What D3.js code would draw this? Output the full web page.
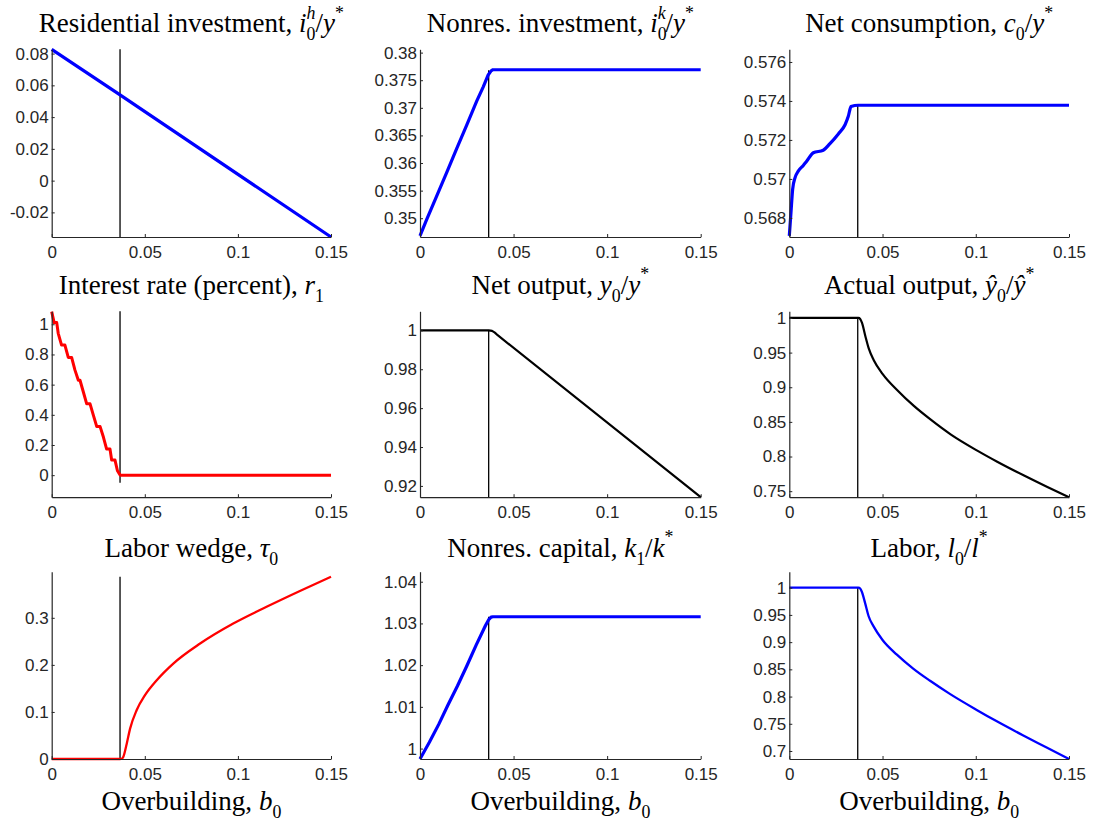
<!DOCTYPE html>
<html>
<head>
<meta charset="utf-8">
<script src="https://cdn.jsdelivr.net/npm/d3@7"></script>
<style>
  body { margin: 0; background: #fff; }
  svg { display: block; }
</style>
</head>
<body>
<script>
// values
var xTicks = [0, 0.05, 0.1, 0.15];
var cutoff = 0.0367;

var resX = [0, 0.0367, 0.15];
var resY = [0.0827, 0.0540, -0.0355];

var nriX = [0, 0.0036, 0.0089, 0.0143, 0.0196, 0.0249, 0.0303, 0.0338, 0.0365, 0.0380, 0.0390, 0.15];
var nriY = [0.3468, 0.3498, 0.3540, 0.3583, 0.3626, 0.3668, 0.3712, 0.3738, 0.3760, 0.3767, 0.3769, 0.3769];

var conX = [0, 0.0009, 0.0018, 0.0031, 0.0048, 0.0075, 0.0093, 0.0129, 0.0182, 0.0218, 0.0263, 0.0299, 0.0316, 0.0331, 0.0370, 0.15];
var conY = [0.56708, 0.56828, 0.56947, 0.57007, 0.57040, 0.57069, 0.57091, 0.57134, 0.57147, 0.57181, 0.57231, 0.57278, 0.57320, 0.57371, 0.57378, 0.57378];

var rateX = [0, 0.0013, 0.0027, 0.0035, 0.0053, 0.0071, 0.0089, 0.0107, 0.0125, 0.0143, 0.0152, 0.0170, 0.0188, 0.0206,
             0.0224, 0.0242, 0.0260, 0.0278, 0.0295, 0.0313, 0.0322, 0.0340, 0.0353, 0.0367, 0.0370, 0.15];
var rateY = [1.084, 1.011, 1.011, 0.940, 0.862, 0.862, 0.780, 0.780, 0.696, 0.629, 0.629, 0.551, 0.473, 0.473,
             0.396, 0.322, 0.322, 0.251, 0.173, 0.173, 0.100, 0.100, 0.029, 0.002, 0, 0];

var noutX = [0, 0.0367, 0.0385, 0.0400, 0.0415, 0.15];
var noutY = [1, 1, 0.9997, 0.9988, 0.9975, 0.9142];

var aoutX = [0, 0.0371, 0.0380, 0.0390, 0.0408, 0.0426, 0.0453, 0.0501, 0.0578, 0.0668, 0.0757, 0.0865, 0.1008, 0.1115, 0.1259, 0.1384, 0.15];
var aoutY = [1, 1, 0.9985, 0.9928, 0.9736, 0.9560, 0.9390, 0.9190, 0.8960, 0.8730, 0.8535, 0.8320, 0.8085, 0.7925, 0.7725, 0.7560, 0.7413];

var wedgeX = [0, 0.0367, 0.0376, 0.0385, 0.0403, 0.0421, 0.0456, 0.0501, 0.0564, 0.0653, 0.0797, 0.0975, 0.1154, 0.1333, 0.15];
var wedgeY = [0, 0, 0.0005, 0.0050, 0.0326, 0.0645, 0.1035, 0.1355, 0.1674, 0.2028, 0.2454, 0.2879, 0.3234, 0.3570, 0.3872];

var capX = [0, 0.005, 0.010, 0.015, 0.020, 0.025, 0.030, 0.035, 0.0367, 0.0380, 0.0390, 0.15];
var capY = [0.9975, 1.0015, 1.0058, 1.0105, 1.0150, 1.0198, 1.0248, 1.0295, 1.0309, 1.0315, 1.0316, 1.0316];

var labX = [0, 0.0371, 0.0380, 0.0389, 0.0407, 0.0425, 0.0452, 0.0500, 0.0577, 0.0666, 0.0755, 0.0863, 0.1005, 0.1113, 0.1255, 0.1380, 0.15];
var labY = [1, 1, 0.9985, 0.9926, 0.9712, 0.9480, 0.9290, 0.9040, 0.8770, 0.8510, 0.8290, 0.8045, 0.7755, 0.7545, 0.7285, 0.7065, 0.6853];

var resTicks = [-0.02, 0, 0.02, 0.04, 0.06, 0.08];
var nriTicks = [0.35, 0.355, 0.36, 0.365, 0.37, 0.375, 0.38];
var conTicks = [0.568, 0.57, 0.572, 0.574, 0.576];
var rateTicks = [0, 0.2, 0.4, 0.6, 0.8, 1];
var noutTicks = [0.92, 0.94, 0.96, 0.98, 1];
var aoutTicks = [0.75, 0.8, 0.85, 0.9, 0.95, 1];
var wedgeTicks = [0, 0.1, 0.2, 0.3];
var capTicks = [1, 1.01, 1.02, 1.03, 1.04];
var labTicks = [0.7, 0.75, 0.8, 0.85, 0.9, 0.95, 1];

// title pieces: [text, level (0 normal, -1 sub, 1 sup), italic, stack over previous]
var panels = [
  {title: [['Residential investment, '], ['i', 0, 1], ['0', -1], ['h', 1, 1, 1], ['/'], ['y', 0, 1], ['*', 1]],
   xs: resX, ys: resY, ticks: resTicks, dom: [-0.0355, 0.0827], v: [-0.0355, 0.0827], color: '#0000ff', lw: 3.2},
  {title: [['Nonres. investment, '], ['i', 0, 1], ['0', -1], ['k', 1, 1, 1], ['/'], ['y', 0, 1], ['*', 1]],
   xs: nriX, ys: nriY, ticks: nriTicks, dom: [0.3466, 0.3806], v: [0.3466, 0.3768], color: '#0000ff', lw: 3.2},
  {title: [['Net consumption, '], ['c', 0, 1], ['0', -1], ['/'], ['y', 0, 1], ['*', 1]],
   xs: conX, ys: conY, ticks: conTicks, dom: [0.56702, 0.57665], v: [0.56702, 0.57378], color: '#0000ff', lw: 3.2, smooth: 1},
  {title: [['Interest rate (percent), '], ['r', 0, 1], ['1', -1]],
   xs: rateX, ys: rateY, ticks: rateTicks, dom: [-0.146, 1.086], v: [-0.05, 1.086], color: '#ff0000', lw: 3},
  {title: [['Net output, '], ['y', 0, 1], ['0', -1], ['/'], ['y', 0, 1], ['*', 1]],
   xs: noutX, ys: noutY, ticks: noutTicks, dom: [0.9142, 1.0098], v: [0.9142, 1], color: '#000000', lw: 2.2},
  {title: [['Actual output, '], ['\u0177', 0, 1], ['0', -1], ['/'], ['\u0177', 0, 1], ['*', 1]],
   xs: aoutX, ys: aoutY, ticks: aoutTicks, dom: [0.7413, 1.0096], v: [0.7413, 1], color: '#000000', lw: 2.2, smooth: 1},
  {title: [['Labor wedge, '], ['\u03c4', 0, 1], ['0', -1]],
   xs: wedgeX, ys: wedgeY, ticks: wedgeTicks, dom: [0, 0.398], v: [0, 0.3872], color: '#ff0000', lw: 2.3, smooth: 1},
  {title: [['Nonres. capital, '], ['k', 0, 1], ['1', -1], ['/'], ['k', 0, 1], ['*', 1]],
   xs: capX, ys: capY, ticks: capTicks, dom: [0.9975, 1.0424], v: [0.9975, 1.0316], color: '#0000ff', lw: 3.2},
  {title: [['Labor, '], ['l', 0, 1], ['0', -1], ['/'], ['l', 0, 1], ['*', 1]],
   xs: labX, ys: labY, ticks: labTicks, dom: [0.6853, 1.0294], v: [0.6853, 1], color: '#0000ff', lw: 2.3, smooth: 1}
];

var cols = [[51.7, 331], [420, 700.7], [789.3, 1069]];
var rows = [[49.3, 237], [311.3, 497.2], [571.7, 759]];
var titleY = [32, 293.5, 556.5];

var svg = d3.select('body').append('svg')
  .attr('width', 1094)
  .attr('height', 821)
  .style('background-color', 'white');

var fmt = function(d) { return String(+d.toFixed(4)); };

var mathText = function(sel, pieces, cx, y, size) {
  var t = sel.append('text')
    .attr('x', cx).attr('y', y)
    .attr('text-anchor', 'middle')
    .attr('font-family', '"Liberation Serif", "DejaVu Serif", serif')
    .attr('font-size', size)
    .attr('fill', '#000');
  var shift = 0, prev = null;
  var lvShift = {'0': 0, '-1': size * 0.3, '1': -size * 0.5};
  pieces.forEach(function(p) {
    var lv = p[1] || 0;
    var target = lvShift[lv];
    var sp = t.append('tspan').text(p[0]);
    if (target !== shift) sp.attr('dy', target - shift);
    shift = target;
    if (lv !== 0) sp.attr('font-size', size * 0.66);
    if (p[2]) sp.attr('font-style', 'italic');
    if (p[3] && prev) sp.attr('dx', -prev.node().getComputedTextLength());
    prev = sp;
  });
  return t;
};

panels.forEach(function(p, i) {
  var c = cols[i % 3], r = rows[Math.floor(i / 3)];
  var x = d3.scaleLinear().domain([0, 0.15]).range(c);
  var y = d3.scaleLinear().domain(p.dom).range([r[1], r[0]]);
  var g = svg.append('g');

  // cutoff line
  g.append('line')
    .attr('x1', x(cutoff)).attr('x2', x(cutoff))
    .attr('y1', y(p.v[0])).attr('y2', y(p.v[1]))
    .attr('stroke', '#000').attr('stroke-width', 1.3);

  var line = d3.line()
    .x(function(d) { return x(d[0]); })
    .y(function(d) { return y(d[1]); })
    .curve(p.smooth ? d3.curveMonotoneX : d3.curveLinear);

  g.append('path')
    .datum(d3.zip(p.xs, p.ys))
    .attr('d', line)
    .attr('fill', 'none')
    .attr('stroke', p.color)
    .attr('stroke-width', p.lw)
    .attr('stroke-linejoin', 'round');

  var ax = g.append('g')
    .attr('transform', 'translate(0,' + r[1] + ')')
    .call(d3.axisBottom(x).tickValues(xTicks).tickFormat(fmt).tickSize(-3).tickSizeOuter(0).tickPadding(9));
  var ay = g.append('g')
    .attr('transform', 'translate(' + c[0] + ',0)')
    .call(d3.axisLeft(y).tickValues(p.ticks).tickFormat(fmt).tickSize(-3).tickSizeOuter(0).tickPadding(3));

  [ax, ay].forEach(function(a) {
    a.attr('color', '#262626')
      .attr('font-family', '"Liberation Sans", Arial, sans-serif')
      .attr('font-size', 17);
    a.select('.domain').attr('stroke-width', 1.2);
  });

  mathText(svg, p.title, (c[0] + c[1]) / 2, titleY[Math.floor(i / 3)], 27);

  if (i >= 6) {
    mathText(svg, [['Overbuilding, '], ['b', 0, 1], ['0', -1]], (c[0] + c[1]) / 2, 810, 27);
  }
});
</script>
</body>
</html>
